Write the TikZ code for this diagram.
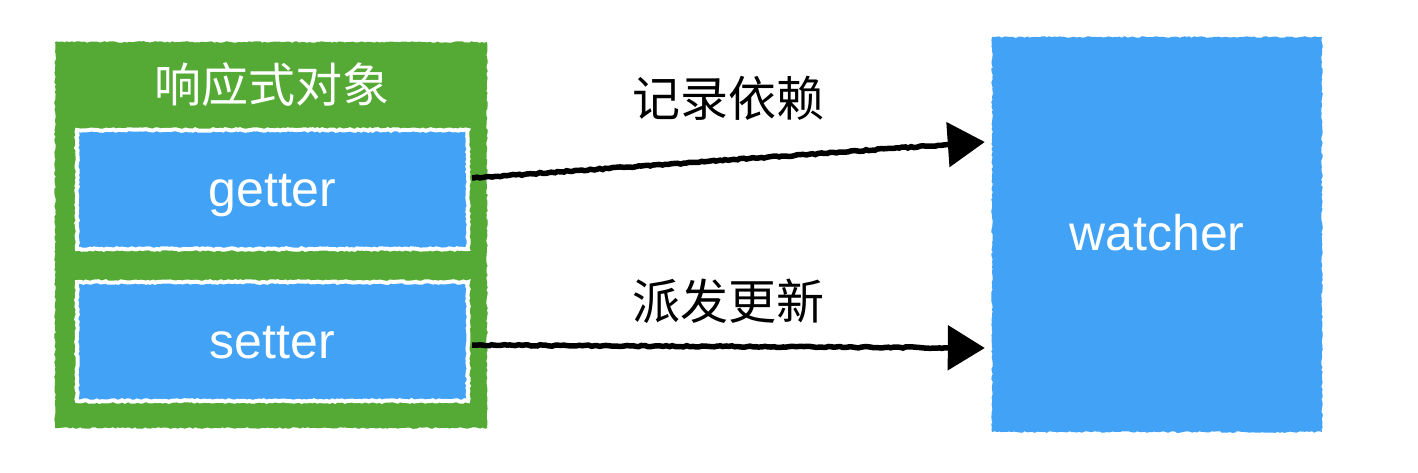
\documentclass[tikz,border=0pt]{standalone}
\usepackage{fontspec}
\setmainfont{Liberation Sans}
\newfontfamily\cjk{Noto Sans CJK SC}
\usetikzlibrary{arrows.meta,decorations.pathmorphing}

\begin{document}
\begin{tikzpicture}[
    x=1pt, y=-1pt,
    every node/.style={
        rectangle,
        inner sep=0pt,
        font=\fontsize{50}{54}\selectfont
    },
    rough/.style={
        decorate,
        decoration={random steps, segment length=2.5pt, amplitude=0.8pt}
    },
    box/.style={rough, fill=boxBlue, text=white, text height=33pt, text depth=0pt},
    link/.style={
        -{Triangle[length=37pt, width=44pt]},
        line width=5.5pt,
        decorate,
        decoration={random steps, segment length=3pt, amplitude=0.7pt,
                    pre length=2pt, post length=40pt}
    }
]

% 색 정의
\definecolor{objGreen}{RGB}{84,170,52}  % 반응형 객체
\definecolor{boxBlue}{RGB}{66,162,246}  % getter / setter / watcher

\useasboundingbox (0,0) rectangle (1418,472);

% 노드
\node[rough, fill=objGreen, minimum width=432pt, minimum height=386pt] (obj) at (271,235) {};
\node[text=white, font=\cjk\fontsize{47}{50}\selectfont] (title) at (272,85) {响应式对象};

\node[box, draw=white, line width=4pt, minimum width=391pt, minimum height=119pt] (getter) at (272.5,189.5) {getter};
\node[box, draw=white, line width=4pt, minimum width=391pt, minimum height=119pt] (setter) at (272.5,341.5) {setter};

\node[box, text height=31pt, minimum width=330pt, minimum height=395pt] (watcher) at (1157,234.5) {watcher};

% 간선
\draw[link] ([yshift=11.5pt, xshift=2pt]getter.east) -- ([yshift=92.5pt, xshift=-7pt]watcher.west);
\draw[link] ([yshift=-3.5pt, xshift=2pt]setter.east) -- ([yshift=-113.5pt, xshift=-7pt]watcher.west);

% 라벨
\node[font=\cjk\fontsize{48}{52}\selectfont] (dep) at (728,98) {记录依赖};
\node[font=\cjk\fontsize{48}{52}\selectfont] (notify) at (728,301) {派发更新};

\end{tikzpicture}
\end{document}
